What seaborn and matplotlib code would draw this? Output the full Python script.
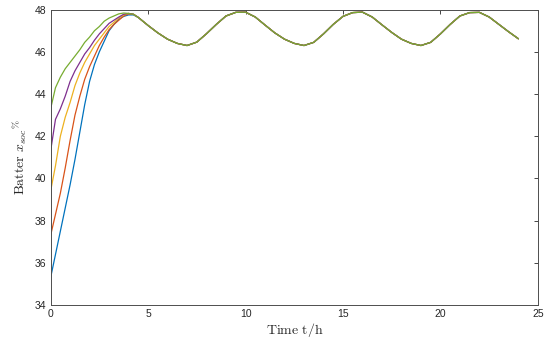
import numpy as np
import pandas as pd
import matplotlib
matplotlib.use("Agg")
import matplotlib.pyplot as plt
import seaborn as sns

# ---- data ----
# charging phase, every 15 min from t=0 to t=4.25 h
t_rise = np.arange(0, 4.5, 0.25)
soc_blue = [35.3, 36.4, 37.5, 38.6, 39.7, 40.9, 42.2, 43.5, 44.6,
            45.4, 46.0, 46.5, 47.0, 47.3, 47.55, 47.68, 47.75, 47.75]
soc_orange = [37.3, 38.3, 39.3, 40.5, 41.8, 43.0, 43.9, 44.7, 45.3,
              45.8, 46.3, 46.7, 47.05, 47.3, 47.5, 47.7, 47.8, 47.78]
soc_yellow = [39.4, 40.6, 42.0, 42.9, 43.6, 44.4, 45.0, 45.5, 45.9,
              46.3, 46.6, 46.9, 47.2, 47.4, 47.6, 47.75, 47.82, 47.78]
soc_purple = [41.3, 42.8, 43.3, 43.9, 44.6, 45.1, 45.5, 45.9, 46.2,
              46.55, 46.85, 47.1, 47.35, 47.5, 47.65, 47.78, 47.82, 47.78]
soc_green = [43.3, 44.3, 44.8, 45.2, 45.5, 45.8, 46.1, 46.45, 46.7,
             47.0, 47.2, 47.45, 47.6, 47.7, 47.8, 47.84, 47.82, 47.78]

# common periodic part, every 30 min from t=4.5 to t=24 h
t_tail = np.arange(4.5, 24.01, 0.5)
soc_tail = [47.63, 47.25, 46.9, 46.6, 46.4, 46.3, 46.46, 46.86, 47.3, 47.7,
            47.87, 47.88, 47.65, 47.27, 46.9, 46.6, 46.4, 46.3, 46.45, 46.85,
            47.3, 47.68, 47.86, 47.88, 47.65, 47.28, 46.92, 46.6, 46.4, 46.3,
            46.45, 46.85, 47.3, 47.7, 47.86, 47.87, 47.65, 47.3, 46.95, 46.62]

cases = ['c1', 'c2', 'c3', 'c4', 'c5']
rises = [soc_blue, soc_orange, soc_yellow, soc_purple, soc_green]
colors = ['#0072BD', '#D95319', '#EDB120', '#7E2F8E', '#77AC30']

rows = []
for name, rise in zip(cases, rises):
    tt = np.concatenate([t_rise, t_tail])
    vv = np.concatenate([rise, soc_tail])
    rows.append(pd.DataFrame({'t': tt, 'soc': vv, 'case': name}))
df = pd.concat(rows, ignore_index=True)

# ---- plot ----
sns.set_style("white")
plt.rcParams['font.family'] = ['Liberation Sans', 'DejaVu Sans']
plt.rcParams['mathtext.fontset'] = 'cm'

fig = plt.figure(figsize=(5.5, 3.44), dpi=100)
ax = fig.add_axes([0.092, 0.113, 0.886, 0.859])

sns.lineplot(data=df, x='t', y='soc', hue='case', hue_order=cases,
             palette=colors, legend=False, linewidth=0.9, ax=ax, sort=False)

ax.set_xlim(0, 25)
ax.set_ylim(34, 48)
ax.set_xticks([0, 5, 10, 15, 20, 25])
ax.set_yticks(np.arange(34, 49, 2))
ax.tick_params(direction='in', length=3, width=0.6, colors='#262626',
               labelsize=7.5, top=True, right=True, pad=3)
for s in ax.spines.values():
    s.set_color('#4d4d4d')
    s.set_linewidth(0.7)

ax.set_xlabel(r'$\mathrm{Time\ t/h}$', fontsize=10, labelpad=1)
ax.set_ylabel(r'$\mathrm{Batter}\ x_{soc}{}^{\%}$', fontsize=10, labelpad=4)

fig.savefig('out.png', dpi=100)
